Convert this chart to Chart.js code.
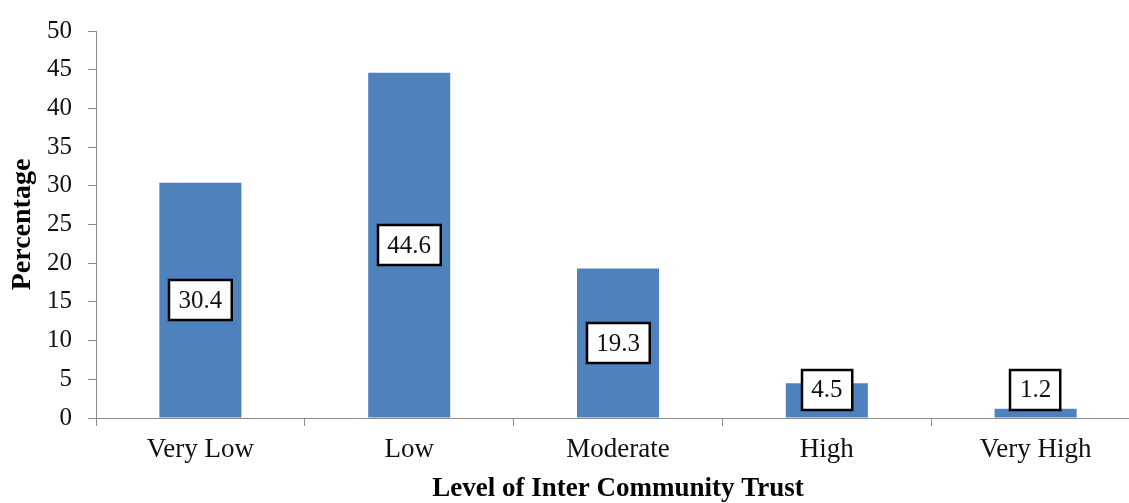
<!DOCTYPE html>
<html>
<head>
<meta charset="utf-8">
<script src="https://cdn.jsdelivr.net/npm/chart.js@4"></script>
<style>
  html, body { margin: 0; padding: 0; background: #fff; }
  #wrap { width: 1129px; height: 503px; overflow: hidden; }
</style>
</head>
<body>
<div id="wrap"><canvas id="trust" width="1142" height="503"></canvas></div>
<script>
const levels = ["Very Low", "Low", "Moderate", "High", "Very High"];
const percentages = [30.4, 44.6, 19.3, 4.5, 1.2];
const yTicks = [0, 5, 10, 15, 20, 25, 30, 35, 40, 45, 50];

const serif = "'Liberation Serif', 'Times New Roman', serif";
const axisGrey = "#8c8c8c";

// boxed value labels in the middle of each bar, kept clear of the axis
const boxedLabels = {
  id: "boxedLabels",
  afterDatasetsDraw(chart) {
    const ctx = chart.ctx;
    const meta = chart.getDatasetMeta(0);
    const boxH = 40;
    ctx.save();
    ctx.font = "25px " + serif;
    ctx.textAlign = "center";
    ctx.textBaseline = "middle";
    meta.data.forEach((bar, i) => {
      const text = String(percentages[i]);
      const w = ctx.measureText(text).width + 19;
      const mid = (bar.y + bar.base) / 2;
      const cy = Math.min(mid, bar.base - 8 - boxH / 2);
      const left = Math.round(bar.x - w / 2);
      const top = Math.round(cy - boxH / 2);
      ctx.fillStyle = "#fff";
      ctx.fillRect(left, top, w, boxH);
      ctx.lineWidth = 2.5;
      ctx.strokeStyle = "#000";
      ctx.strokeRect(left, top, w, boxH);
      ctx.fillStyle = "#111";
      ctx.fillText(text, bar.x, cy + 1);
    });
    ctx.restore();
  },
};

new Chart(document.getElementById("trust"), {
  type: "bar",
  data: {
    labels: levels,
    datasets: [
      {
        data: percentages,
        backgroundColor: "#4f81bd",
        categoryPercentage: 0.393,
        barPercentage: 1,
      },
    ],
  },
  options: {
    responsive: false,
    animation: false,
    layout: { padding: { top: 31, right: 2, bottom: 0, left: 0 } },
    plugins: {
      legend: { display: false },
      tooltip: { enabled: false },
    },
    scales: {
      x: {
        afterFit(scale) {
          scale.height = 85;
        },
        grid: {
          drawOnChartArea: false,
          drawTicks: true,
          tickLength: 8,
          color: axisGrey,
        },
        border: { color: axisGrey, width: 1 },
        ticks: {
          color: "#111",
          padding: 8,
          font: { family: serif, size: 27 },
        },
        title: {
          display: true,
          text: "Level of Inter Community Trust",
          color: "#000",
          padding: { top: 0, bottom: 0 },
          font: { family: serif, size: 27, weight: "bold", lineHeight: 1 },
        },
      },
      y: {
        min: 0,
        max: 50,
        afterFit(scale) {
          scale.width = 96;
        },
        afterBuildTicks(scale) {
          scale.ticks = yTicks.map((v) => ({ value: v }));
        },
        grid: {
          drawOnChartArea: false,
          drawTicks: true,
          tickLength: 8,
          color: axisGrey,
        },
        border: { color: axisGrey, width: 1 },
        ticks: {
          color: "#111",
          padding: 16,
          font: { family: serif, size: 25 },
        },
        title: {
          display: true,
          text: "Percentage",
          color: "#000",
          padding: { top: 9, bottom: 0 },
          font: { family: serif, size: 28, weight: "bold", lineHeight: 1 },
        },
      },
    },
  },
  plugins: [boxedLabels],
});
</script>
</body>
</html>
